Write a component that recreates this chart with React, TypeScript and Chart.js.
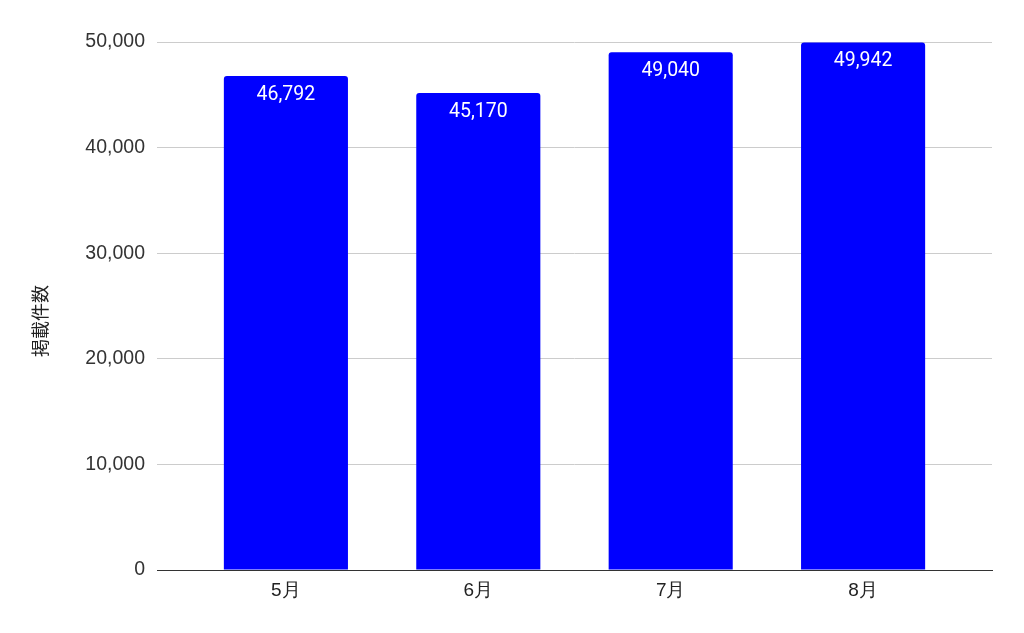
import React, { useEffect, useRef } from "react";
import { Chart, registerables } from "chart.js";

Chart.register(...registerables);

const categories = ["5月", "6月", "7月", "8月"];
const values = [46792, 45170, 49040, 49942];
const yTicks = [0, 10000, 20000, 30000, 40000, 50000];
const yTitle = "掲載件数";

const fmt = (v: number) => v.toLocaleString("en-US");

const valueLabels = {
  id: "valueLabels",
  afterDatasetsDraw(chart: any) {
    const ctx = chart.ctx;
    const meta = chart.getDatasetMeta(0);
    ctx.save();
    ctx.fillStyle = "#ffffff";
    ctx.font = "19.5px Roboto";
    ctx.textAlign = "center";
    ctx.textBaseline = "middle";
    meta.data.forEach((bar: any, i: number) => {
      ctx.fillText(fmt(values[i]), bar.x, bar.y + 19);
    });
    ctx.restore();
  },
};

const yAxisTitle = {
  id: "yAxisTitle",
  afterDraw(chart: any) {
    const ctx = chart.ctx;
    const { top, bottom } = chart.chartArea;
    ctx.save();
    ctx.translate(40, (top + bottom) / 2 + 15);
    ctx.rotate(-Math.PI / 2);
    ctx.fillStyle = "#222222";
    ctx.font = "18px 'Noto Sans CJK JP'";
    ctx.textAlign = "center";
    ctx.textBaseline = "middle";
    ctx.fillText(yTitle, 0, 0);
    ctx.restore();
  },
};

export default function App() {
  const ref = useRef<HTMLCanvasElement>(null);
  useEffect(() => {
    document.body.style.margin = "0";
    const chart = new Chart(ref.current!, {
      type: "bar",
      data: {
        datasets: [
          {
            data: values.map((v, i) => ({ x: i, y: v })),
            backgroundColor: "#0000ff",
            borderRadius: { topLeft: 3, topRight: 3, bottomLeft: 0, bottomRight: 0 },
            borderSkipped: false,
            categoryPercentage: 1,
            barPercentage: 0.645,
          },
        ],
      },
      options: {
        animation: false,
        responsive: false,
        maintainAspectRatio: false,
        layout: { padding: { top: 42, right: 32, bottom: 0, left: 0 } },
        plugins: { legend: { display: false }, tooltip: { enabled: false } },
        scales: {
          x: {
            type: "linear",
            min: -0.67,
            max: 3.67,
            offset: false,
            afterBuildTicks(scale: any) {
              scale.ticks = categories.map((_, i) => ({ value: i }));
            },
            grid: { display: false, drawTicks: false },
            border: { display: true, color: "#333333", width: 1 },
            ticks: {
              color: "#222222",
              font: { family: "Arial, 'Liberation Sans'", size: 19 },
              padding: 9,
              callback: (v: any) => categories[Number(v)] ?? "",
            },
            afterFit(scale: any) {
              scale.height = 63;
            },
          },
          y: {
            min: 0,
            max: 50000,
            afterBuildTicks(scale: any) {
              scale.ticks = yTicks.map((v) => ({ value: v }));
            },
            grid: { color: "#cccccc", drawTicks: false },
            border: { display: false },
            ticks: {
              color: "#333333",
              font: { family: "Arial, 'Liberation Sans'", size: 19.5 },
              padding: 12,
              callback: (v: any) => fmt(Number(v)),
            },
            afterFit(scale: any) {
              scale.width = 157;
            },
          },
        },
      },
      plugins: [valueLabels, yAxisTitle],
    });
    return () => chart.destroy();
  }, []);
  return (
    <div style={{ position: "absolute", left: 0, top: 0, width: 1024, height: 633 }}>
      <canvas ref={ref} width={1024} height={633} style={{ width: 1024, height: 633 }} />
    </div>
  );
}
